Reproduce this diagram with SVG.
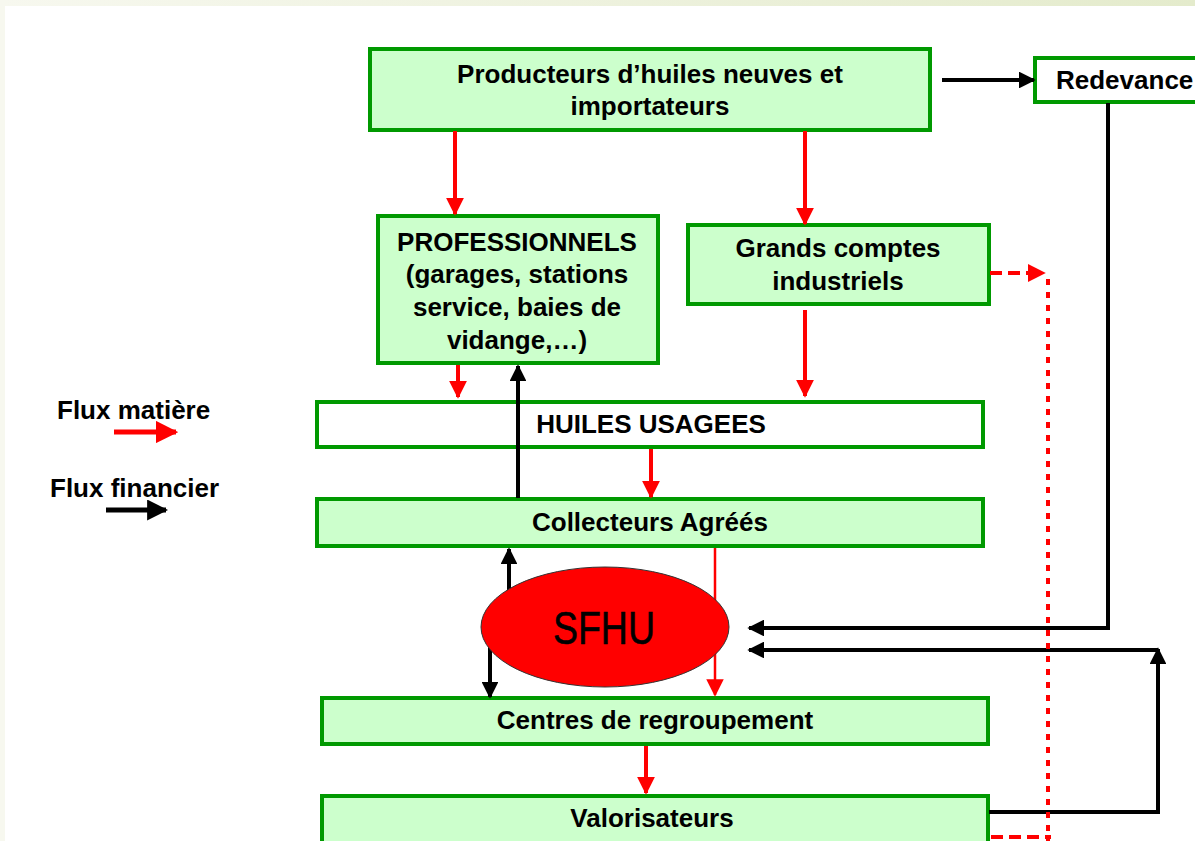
<svg xmlns="http://www.w3.org/2000/svg" width="1195" height="841" viewBox="0 0 1195 841">
<defs>
<linearGradient id="topg" x1="0" y1="0" x2="1" y2="0">
<stop offset="0" stop-color="#f7f8ef"/><stop offset="1" stop-color="#e4ebcc"/>
</linearGradient>
<marker id="ar" viewBox="0 0 10 10" refX="9" refY="5" markerWidth="4.5" markerHeight="4.5" markerUnits="strokeWidth" orient="auto"><path d="M0,0 L10,5 L0,10 z" fill="#ff0000"/></marker>
<marker id="ar2" viewBox="0 0 10 10" refX="9" refY="5" markerWidth="7" markerHeight="7" markerUnits="strokeWidth" orient="auto"><path d="M0,0 L10,5 L0,10 z" fill="#ff0000"/></marker>
<marker id="ab" viewBox="0 0 10 10" refX="9" refY="5" markerWidth="4.2" markerHeight="4.2" markerUnits="strokeWidth" orient="auto"><path d="M0,0 L10,5 L0,10 z" fill="#000"/></marker>
</defs>
<style>
.box{fill:#ccffcc;stroke:#009900;stroke-width:4}
.wbox{fill:#ffffff;stroke:#009900;stroke-width:4}
.t{font-family:"Liberation Sans",Arial,sans-serif;font-weight:bold;font-size:26px;fill:#000;text-anchor:middle}
.red{stroke:#ff0000;stroke-width:4;fill:none;marker-end:url(#ar)}
.blk{stroke:#000;stroke-width:4;fill:none;marker-end:url(#ab)}
</style>
<rect x="0" y="0" width="1195" height="841" fill="#ffffff"/>
<rect x="0" y="0" width="1195" height="6" fill="url(#topg)"/>
<rect x="0" y="0" width="5" height="841" fill="#f7f8ef"/>

<g id="producteurs"><rect class="box" x="370" y="49" width="560" height="81"/>
<text class="t" x="650" y="83">Producteurs d’huiles neuves et</text>
<text class="t" x="650" y="115">importateurs</text></g>

<g id="redevance"><rect class="wbox" x="1035" y="58" width="170" height="44"/>
<text class="t" x="1056" y="89" style="text-anchor:start">Redevance</text></g>

<g id="professionnels"><rect class="box" x="378" y="216" width="280" height="147"/>
<text class="t" x="517" y="251">PROFESSIONNELS</text>
<text class="t" x="517" y="283">(garages, stations</text>
<text class="t" x="517" y="316">service, baies de</text>
<text class="t" x="517" y="349">vidange,…)</text></g>

<g id="grands"><rect class="box" x="688" y="225" width="301" height="79"/>
<text class="t" x="838" y="257">Grands comptes</text>
<text class="t" x="838" y="290">industriels</text></g>

<g id="huiles"><rect class="wbox" x="317" y="402" width="666" height="45"/>
<text class="t" x="651" y="433">HUILES USAGEES</text></g>

<g id="collecteurs"><rect class="box" x="317" y="499" width="666" height="47"/>
<text class="t" x="650" y="531">Collecteurs Agréés</text></g>

<g id="centres"><rect class="box" x="322" y="698" width="666" height="46"/>
<text class="t" x="655" y="729">Centres de regroupement</text></g>

<g id="valorisateurs"><rect class="box" x="322" y="796" width="666" height="52"/>
<text class="t" x="652" y="827">Valorisateurs</text></g>

<g id="legend">
<text class="t" x="57" y="419" style="text-anchor:start">Flux matière</text>
<line x1="114" y1="432" x2="176" y2="432" stroke="#ff0000" stroke-width="5" marker-end="url(#ar)"/>
<text class="t" x="50" y="497" style="text-anchor:start">Flux financier</text>
<line x1="106" y1="510" x2="166" y2="510" stroke="#000" stroke-width="5" marker-end="url(#ab)"/>
</g>

<g id="connectors">
<line class="red" x1="455" y1="131" x2="455" y2="214"/>
<line class="red" x1="805" y1="131" x2="805" y2="224"/>
<line class="red" x1="458" y1="365" x2="458" y2="397"/>
<line class="red" x1="805" y1="310" x2="805" y2="396"/>
<line class="red" x1="651" y1="449" x2="651" y2="497"/>
<line class="red" x1="646" y1="746" x2="646" y2="793"/>
<line x1="715" y1="548" x2="715" y2="695" stroke="#ff0000" stroke-width="2.5" marker-end="url(#ar2)"/>
<line class="blk" x1="942" y1="80" x2="1034" y2="80"/>
<line class="blk" x1="518" y1="498" x2="518" y2="366"/>
<line class="blk" x1="509" y1="600" x2="509" y2="549"/>
<line class="blk" x1="490" y1="640" x2="490" y2="697"/>
<polyline class="blk" points="1108,103 1108,628 749,628"/>
<polyline class="blk" points="989,812 1158,812 1158,649"/>
<line class="blk" x1="1158" y1="650" x2="749" y2="650"/>
<line x1="990" y1="273" x2="1044" y2="273" stroke="#ff0000" stroke-width="4" stroke-dasharray="12,6" marker-end="url(#ar)"/>
<line x1="1048" y1="279" x2="1048" y2="841" stroke="#ff0000" stroke-width="4" stroke-dasharray="6,7"/>
<line x1="991" y1="837" x2="1051" y2="837" stroke="#ff0000" stroke-width="4" stroke-dasharray="12,6"/>
</g>

<g id="sfhu"><ellipse cx="605" cy="627" rx="124" ry="60" fill="#ff0000" stroke="#333" stroke-width="1"/>
<text x="604" y="644" text-anchor="middle" font-family="Liberation Sans,Arial,sans-serif" font-size="46" textLength="102" lengthAdjust="spacingAndGlyphs" stroke="#000" stroke-width="0.6" fill="#000">SFHU</text></g>
</svg>
